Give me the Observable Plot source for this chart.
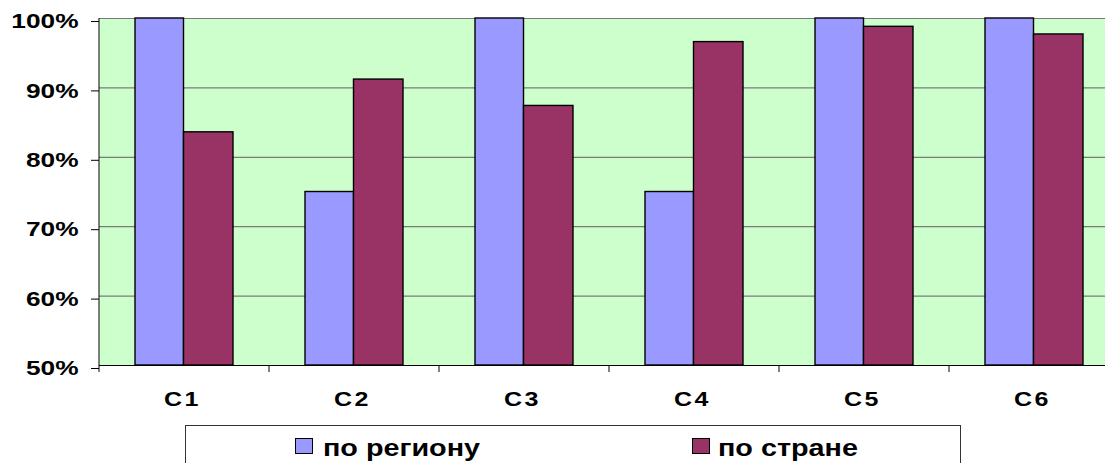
<!DOCTYPE html>
<html>
<head>
<meta charset="utf-8">
<script src="https://cdn.jsdelivr.net/npm/d3@7"></script>
<script src="https://cdn.jsdelivr.net/npm/@observablehq/plot@0.6"></script>
<style>
  html, body { margin: 0; padding: 0; background: #fff; }
  #wrap { position: relative; width: 1105px; height: 463px; overflow: hidden; font-family: "Liberation Sans", Arial, sans-serif; font-weight: bold; }
  #chart svg { display: block; }
  #legendBox { position: absolute; left: 185px; top: 425px; width: 776px; height: 60px; border: 1px solid #333; box-sizing: border-box; background: #fff; }
  .sw { position: absolute; width: 16px; height: 14px; border: 1px solid #000; }
  .lt { position: absolute; font-size: 23px; line-height: 23px; white-space: nowrap; transform: scaleX(1.25); transform-origin: 0 0; color: #000; }
</style>
</head>
<body>
<div id="wrap">
  <div id="chart"></div>
  <div id="legendBox"></div>
</div>
<script>
const categories = ["C1", "C2", "C3", "C4", "C5", "C6"];
const seriesNames = ["по региону", "по стране"];
const seriesColors = ["#9999ff", "#993366"];
const byRegion = [100, 75, 100, 75, 100, 100];
const byCountry = [83.6, 91.2, 87.4, 96.6, 98.8, 97.7];
const yTicks = [50, 60, 70, 80, 90, 100];
const gridTicks = [60, 70, 80, 90, 100];

const rows = categories.map((c, i) => ({cat: c, region: byRegion[i], country: byCountry[i]}));

const chart = Plot.plot({
  width: 1105,
  height: 425,
  marginLeft: 99,
  marginRight: 0,
  marginTop: 18,
  marginBottom: 60,
  style: {fontFamily: "'Liberation Sans', Arial, sans-serif", background: "#fff", overflow: "visible"},
  x: {type: "band", domain: categories, range: [99, 1119], padding: 0, round: false, label: null},
  y: {type: "linear", domain: [50, 100], label: null},
  marks: [
    Plot.frame({fill: "#ccffcc", stroke: "none"}),
    Plot.ruleY(gridTicks, {y: d => d, stroke: "#7a7a7a", strokeWidth: 1.2}),
    Plot.barY(rows, {x: "cat", y1: () => 50, y2: "region", insetLeft: 36, insetRight: 85.5,
      fill: seriesColors[0], stroke: "#000", strokeWidth: 1.4}),
    Plot.barY(rows, {x: "cat", y1: () => 50, y2: "country", insetLeft: 84.5, insetRight: 36,
      fill: seriesColors[1], stroke: "#000", strokeWidth: 1.4}),
    // left axis line
    Plot.barY([categories[0]], {x: d => d, y1: () => 50, y2: () => 100, insetLeft: -0.5, insetRight: 169.5, fill: "#000"}),
    // bottom axis line
    Plot.ruleY([50], {y: d => d, stroke: "#000", strokeWidth: 1.2}),
    // x category boundary ticks
    Plot.barY(categories, {x: d => d, y1: () => 50, y2: () => 49, insetLeft: -0.5, insetRight: 169.5, fill: "#000"}),
    Plot.axisY({ticks: yTicks, tickFormat: d => d + "%", tickSize: 8, tickPadding: 13, label: null,
      fontSize: 21, fontWeight: "bold", dy: 3, stroke: "#000", fill: "#000"}),
    Plot.axisX({tickSize: 0, tickPadding: 26, fontSize: 20, fontWeight: "bold", fill: "#000", dx: -2, label: null})
  ]
});
document.getElementById("chart").appendChild(chart);

// horizontal stretch of axis labels (the reference text is wide)
function stretch(sel, s) {
  chart.querySelectorAll(sel).forEach(t => {
    const tr = t.getAttribute("transform");
    if (tr) {
      t.setAttribute("transform", tr + ` scale(${s},1)`);
    } else {
      const x = +(t.getAttribute("x") || 0);
      t.setAttribute("transform", `translate(${x},0) scale(${s},1) translate(${-x},0)`);
    }
  });
}
stretch('g[aria-label="y-axis tick label"] text', 1.25);
stretch('g[aria-label="x-axis tick label"] text', 1.25);
chart.querySelectorAll('g[aria-label="x-axis tick label"] text').forEach(t => t.style.letterSpacing = "2px");

// legend
const wrap = document.getElementById("wrap");
const swX = [295, 692];
const txX = [323, 718];
seriesNames.forEach((name, i) => {
  const sw = document.createElement("div");
  sw.className = "sw";
  sw.style.left = swX[i] + "px";
  sw.style.top = "438px";
  sw.style.background = seriesColors[i];
  wrap.appendChild(sw);
  const tx = document.createElement("div");
  tx.className = "lt";
  tx.style.left = txX[i] + "px";
  tx.style.top = "437px";
  tx.textContent = name;
  wrap.appendChild(tx);
});
</script>
</body>
</html>
